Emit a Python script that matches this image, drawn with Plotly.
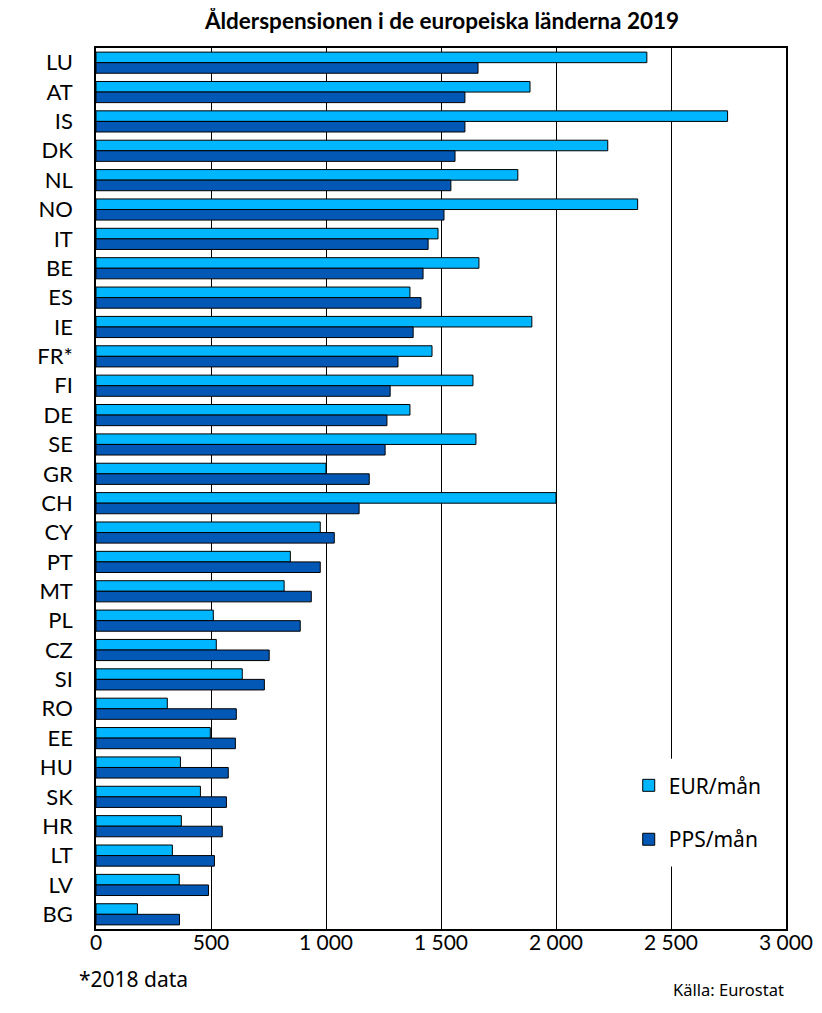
import plotly.graph_objects as go

countries = ["LU", "AT", "IS", "DK", "NL", "NO", "IT", "BE", "ES", "IE",
             "FR*", "FI", "DE", "SE", "GR", "CH", "CY", "PT", "MT", "PL",
             "CZ", "SI", "RO", "EE", "HU", "SK", "HR", "LT", "LV", "BG"]
eur_man = [2395, 1887, 2746, 2225, 1834, 2355, 1487, 1665, 1365, 1895,
           1461, 1639, 1365, 1652, 1000, 2000, 975, 845, 818, 510,
           523, 636, 310, 497, 367, 454, 371, 332, 362, 180]
pps_man = [1661, 1604, 1604, 1561, 1543, 1513, 1444, 1422, 1413, 1379,
           1313, 1279, 1265, 1257, 1188, 1144, 1036, 975, 936, 888,
           753, 732, 610, 606, 575, 567, 549, 515, 489, 363]
x_ticks = [0, 500, 1000, 1500, 2000, 2500, 3000]
x_tick_labels = ["0", "500", "1 000", "1 500", "2 000", "2 500", "3 000"]

# the page adds an 8px body margin; keep the figure small enough not to scroll
WIDTH, HEIGHT = 806, 995
M_L, M_T = 87.5, 39.5
plot_w, plot_h = 691, 882
M_R = WIDTH - M_L - plot_w
M_B = HEIGHT - M_T - plot_h


def px_x(x):
    return (x - 8 - M_L) / plot_w


def px_y(y):
    return (HEIGHT - M_B - (y - 8)) / plot_h


fig = go.Figure()
fig.add_trace(go.Bar(y=countries, x=eur_man, name="EUR/mån", orientation="h",
                     marker=dict(color="#00b6ff", line=dict(color="black", width=1)),
                     legend="legend"))
fig.add_trace(go.Bar(y=countries, x=pps_man, name="PPS/mån", orientation="h",
                     marker=dict(color="#0458b5", line=dict(color="black", width=1)),
                     legend="legend2"))

legend_font = dict(family="Noto Sans", size=21)
fig.update_layout(
    width=WIDTH,
    height=HEIGHT,
    margin=dict(l=M_L, r=M_R, t=M_T, b=M_B, autoexpand=False),
    autosize=False,
    barmode="group",
    bargap=0.28,
    bargroupgap=0,
    plot_bgcolor="white",
    paper_bgcolor="white",
    font=dict(family="Lato", color="black"),
    title=dict(text="<b>Ålderspensionen i de europeiska länderna 2019</b>",
               font=dict(family="Lato", size=22.5), x=(442 - 8) / WIDTH, xanchor="center",
               y=1 - 13 / HEIGHT, yanchor="middle"),
    legend=dict(x=px_x(629), y=px_y(786), xanchor="left", yanchor="middle",
                bgcolor="white", font=legend_font, itemwidth=30),
    legend2=dict(x=px_x(629), y=px_y(840), xanchor="left", yanchor="middle",
                 bgcolor="white", font=legend_font, itemwidth=30),
    showlegend=True,
)
fig.update_xaxes(range=[0, 3000], tickvals=x_ticks, ticktext=x_tick_labels,
                 tickfont=dict(family="Lato", size=21), showgrid=True,
                 gridcolor="black", gridwidth=1, showline=True, linecolor="black",
                 linewidth=1.5, mirror=True, zeroline=False, ticks="",
                 ticklabelstandoff=-6, automargin=False)
fig.update_yaxes(categoryorder="array", categoryarray=countries, autorange="reversed",
                 tickfont=dict(family="Lato", size=22), showgrid=False, showline=True,
                 linecolor="black", linewidth=1.5, mirror=True, ticks="",
                 ticklabelstandoff=17, automargin=False)

# white patch behind the legend hides the 2 500 gridline there
fig.add_shape(type="rect", xref="x", yref="paper", x0=2400, x1=2600,
              y0=px_y(867), y1=px_y(759), fillcolor="white", line_width=0,
              layer="above")

fig.add_annotation(text="*2018 data", x=px_x(76), y=px_y(980), xref="paper", yref="paper",
                   showarrow=False, xanchor="left", yanchor="middle",
                   font=dict(family="Noto Sans", size=21))
fig.add_annotation(text="Källa: Eurostat", x=px_x(787), y=px_y(990), xref="paper", yref="paper",
                   showarrow=False, xanchor="right", yanchor="middle",
                   font=dict(family="Noto Sans", size=16.5))

fig.write_html("out.html")
